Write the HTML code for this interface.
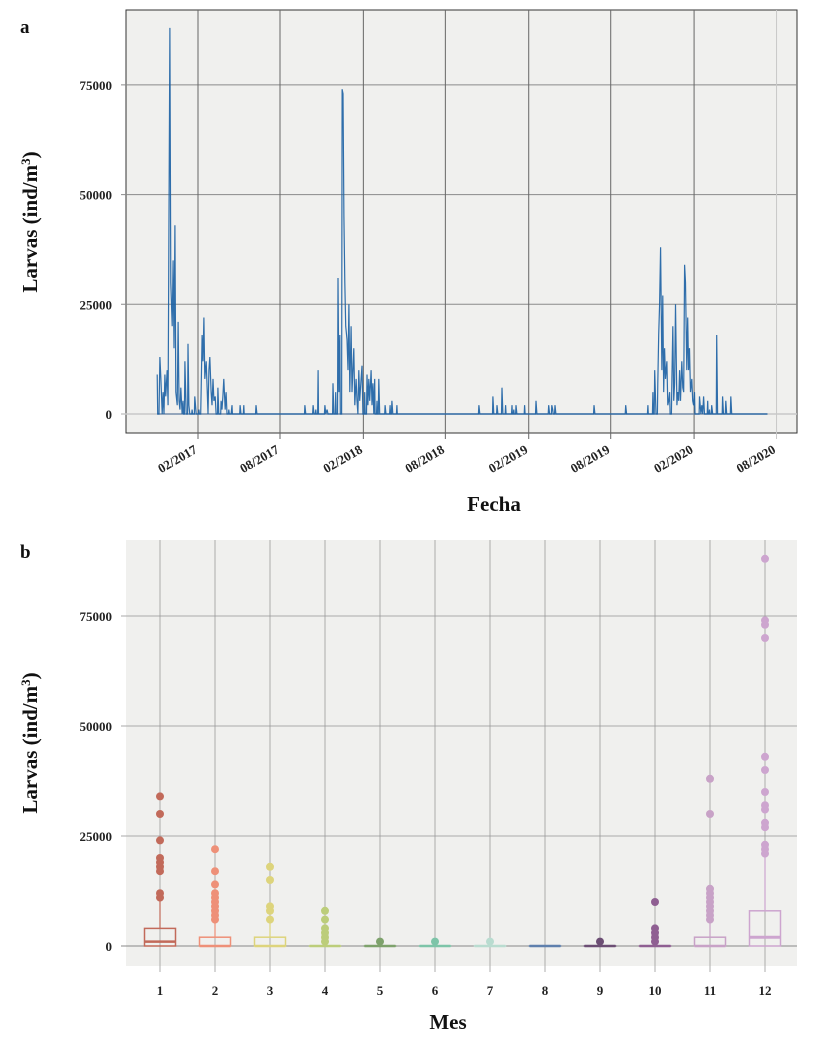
<!DOCTYPE html>
<html><head><meta charset="utf-8"><style>
body{margin:0;background:#fff;width:820px;height:1038px;overflow:hidden}
svg{display:block;font-family:"Liberation Serif",serif}
</style></head><body>
<svg id="fig" width="820" height="1038" xmlns="http://www.w3.org/2000/svg">
<text x="20" y="33" font-size="19" font-weight="bold" fill="#111">a</text>
<text x="20" y="558" font-size="19" font-weight="bold" fill="#111">b</text>
<g id="topChart"></g>
<g id="botChart"></g>
</svg>
<script>
// ---- Panel a data: days since 2017-02-01, larvae values ----
const tsDays = [-90,-86,-84,-82,-79,-77,-75,-73,-71,-68,-66,-64,-62,-60,-57,-55,-53,-51,-49,-46,-44,-42,-40,-38,-35,-33,-29,-26,-22,-20,-18,-13,-7,-4,2,7,9,11,13,15,18,20,22,24,26,29,31,33,35,38,40,44,46,51,53,55,57,60,62,64,68,73,75,79,93,95,101,106,128,130,
236,238,243,254,256,260,265,269,280,282,285,287,298,300,304,309,311,313,318,320,322,324,326,329,331,333,335,338,340,342,344,346,349,351,353,355,357,360,362,364,368,373,375,377,379,382,384,386,388,390,395,399,401,413,415,424,428,430,439,446,
620,622,651,653,660,662,671,673,679,684,693,697,702,704,721,726,746,748,774,776,781,783,788,790,874,876,944,946,
993,997,1004,1008,1010,1015,1017,1019,1021,1024,1026,1028,1030,1032,1035,1037,1039,1041,1046,1048,1050,1052,1054,1057,1059,1061,1063,1065,1068,1070,1072,1074,1076,1079,1081,1083,1085,1087,1090,1092,1094,1096,1101,1107,1110,1112,1114,1116,1118,1125,1129,1134,1136,1145,1147,1158,1160,1165,1167,1176,1178,1257];
const tsValues = [9000,0,13000,8000,0,5000,0,9000,4000,10000,2000,45000,88000,30000,20000,35000,15000,43000,5000,2000,21000,3000,1000,6000,0,3000,12000,0,16000,2000,0,1000,4000,0,1000,6000,18000,12000,22000,8000,12000,6000,0,10000,13000,5000,2000,8000,3000,4000,0,6000,0,3000,1000,4000,8000,1000,5000,0,1000,0,2000,0,2000,0,2000,0,2000,0,
2000,0,0,2000,0,1000,10000,0,2000,0,1000,0,7000,0,5000,31000,5000,18000,74000,73000,45000,30000,20000,17000,10000,25000,5000,20000,5000,10000,15000,2000,8000,3000,0,10000,3000,8000,11000,0,5000,9000,2000,8000,3000,10000,2000,7000,0,8000,3000,8000,0,2000,0,2000,3000,0,2000,0,
2000,0,4000,0,2000,0,6000,0,2000,0,2000,1000,2000,0,2000,0,3000,0,2000,0,2000,1000,2000,0,2000,0,2000,0,
2000,0,5000,10000,3000,7000,18000,25000,38000,10000,27000,5000,15000,8000,12000,2000,3000,5000,8000,20000,3000,7000,25000,2000,5000,3000,10000,3000,12000,6000,5000,34000,30000,10000,22000,10000,15000,5000,8000,3000,2000,5000,0,4000,0,2000,0,4000,0,3000,1000,2000,0,18000,0,4000,0,3000,0,4000,0,0];
const tsTickLabels = ["02/2017","08/2017","02/2018","08/2018","02/2019","08/2019","02/2020","08/2020"];
const tsTickDays = [0,181,365,546,730,911,1095,1277];
const yTicks = [0,25000,50000,75000];

// ---- Panel b data ----
const months = ["1","2","3","4","5","6","7","8","9","10","11","12"];
const boxQ1 = [0,0,0,0,0,0,0,0,0,0,0,0];
const boxMed = [1000,0,0,0,0,0,0,0,0,0,0,2000];
const boxQ3 = [4000,2000,2000,0,0,0,0,0,0,0,2000,8000];
const boxWhisker = [11000,6000,6000,0,0,0,0,0,0,0,6000,21000];
const outliers = [
 [34000,30000,24000,20000,19000,18000,17000,12000,11000],
 [22000,17000,14000,12000,11000,10000,9000,8000,7000,6000],
 [18000,15000,9000,8000,6000],
 [8000,6000,4000,3000,2000,1000],
 [1000],[1000],[1000],[],[1000],
 [10000,4000,3000,2000,1000],
 [38000,30000,13000,12000,11000,10000,9000,8000,7000,6000],
 [88000,74000,73000,70000,43000,40000,35000,32000,31000,28000,27000,23000,22000,21000]];
const monthColors = ["#c26a5a","#ee9078","#ddd47c","#bccd7a","#7ea26c","#7dc4a8","#b9dcd0","#5f80ad","#6c4e74","#8f5f92","#c8a2c7","#cda5cf"];

const NS="http://www.w3.org/2000/svg";
function mk(parent,tag,attrs){const e=document.createElementNS(NS,tag);for(const k in attrs)e.setAttribute(k,attrs[k]);parent.appendChild(e);return e;}

// ---------- Panel a ----------
(function(){
 const g=document.getElementById('topChart');
 const L=126,R=797,T=10,B=433;
 const xs=d=>198+d*(82/181);
 const ys=v=>414-v*(109.7/25000);
 const bg=mk(g,'rect',{x:L,y:T,width:R-L,height:B-T,fill:'#f0f0ee',stroke:'#333','stroke-width':1});
 
 
 yTicks.forEach(v=>{
  const l=mk(g,'line',{x1:L-5,x2:R,y1:ys(v),y2:ys(v),stroke:v===0?'#c8c8c8':'#8a8a8a','stroke-width':v===0?1.5:1});
  
  
  const t=mk(g,'text',{x:112,y:ys(v)+5,'text-anchor':'end','font-size':13,'font-weight':'bold',fill:'#222'});
  t.textContent=v;
  
  
 });
 tsTickDays.forEach((d,i)=>{
  const x=xs(d);
  const l=mk(g,'line',{x1:x,x2:x,y1:T,y2:B+6,stroke:i===7?'#c8c8c8':'#666','stroke-width':1});
  
  
  const t=mk(g,'text',{x:x,y:452,'text-anchor':'end','font-size':13,'font-weight':'bold',fill:'#222',transform:`rotate(-30 ${x} 452)`});
  t.textContent=tsTickLabels[i];
  
  
 });
 // baseline
 const bl=mk(g,'line',{x1:xs(tsDays[0]),x2:xs(tsDays[tsDays.length-1]),y1:ys(0),y2:ys(0),stroke:'#6a86a8','stroke-width':1.2});
 
 
 let d='';
 tsDays.forEach((day,i)=>{
  if(i>0 && day-tsDays[i-1]>3){
   d+='L'+xs(tsDays[i-1]+1).toFixed(1)+','+ys(0).toFixed(1);
   d+='L'+xs(day-1).toFixed(1)+','+ys(0).toFixed(1);
  }
  d+=(i?'L':'M')+xs(day).toFixed(1)+','+ys(tsValues[i]).toFixed(1);
 });
 const p=mk(g,'path',{d:d,fill:'none',stroke:'#1a5fa3','stroke-width':1.2,'stroke-opacity':0.9,'stroke-linejoin':'miter'});
 
 
 const xt=mk(g,'text',{x:494,y:511,'text-anchor':'middle','font-size':21,'font-weight':'bold',fill:'#111'});
 xt.textContent='Fecha';
 
 
 const yt=mk(g,'text',{x:0,y:0,'text-anchor':'middle','font-size':21,'font-weight':'bold',fill:'#111',transform:'translate(37 222) rotate(-90)'});
 yt.innerHTML='Larvas (ind/m<tspan baseline-shift="super" font-size="13">3</tspan>)';
 
 
})();

// ---------- Panel b ----------
(function(){
 const g=document.getElementById('botChart');
 const L=126,R=797,T=540,B=966;
 const xs=i=>160+i*55;
 const ys=v=>946-v*(110/25000);
 const bg=mk(g,'rect',{x:L,y:T,width:R-L,height:B-T,fill:'#f0f0ee'});
 
 
 yTicks.forEach(v=>{
  const l=mk(g,'line',{x1:L-5,x2:R,y1:ys(v),y2:ys(v),stroke:v===0?'#888':'#aaa','stroke-width':0.9});
  
  
  const t=mk(g,'text',{x:112,y:ys(v)+5,'text-anchor':'end','font-size':13,'font-weight':'bold',fill:'#222'});
  t.textContent=v;
  
  
 });
 months.forEach((m,i)=>{
  const x=xs(i);
  const l=mk(g,'line',{x1:x,x2:x,y1:T,y2:B+6,stroke:'#9a9a9a','stroke-width':0.8});
  
  
  const t=mk(g,'text',{x:x,y:995,'text-anchor':'middle','font-size':13,'font-weight':'bold',fill:'#222'});
  t.textContent=m;
  
  
  const c=monthColors[i];
  const bx=mk(g,'g',{});
  
  
  mk(bx,'line',{x1:x,x2:x,y1:ys(boxQ3[i]),y2:ys(boxWhisker[i]),stroke:c,'stroke-width':1.2});
  const h=Math.max(ys(boxQ1[i])-ys(boxQ3[i]),0.01);
  mk(bx,'rect',{x:x-15.5,y:ys(boxQ3[i]),width:31,height:h,fill:'none',stroke:c,'stroke-width':1.5});
  mk(bx,'line',{x1:x-15.5,x2:x+15.5,y1:ys(boxMed[i]),y2:ys(boxMed[i]),stroke:c,'stroke-width':i===11?3:2.5});
  outliers[i].forEach(v=>{
   const o=mk(bx,'circle',{cx:x,cy:ys(v),r:4,fill:c});
   
   
  });
 });
 const xt=mk(g,'text',{x:448,y:1029,'text-anchor':'middle','font-size':21,'font-weight':'bold',fill:'#111'});
 xt.textContent='Mes';
 
 
 const yt=mk(g,'text',{x:0,y:0,'text-anchor':'middle','font-size':21,'font-weight':'bold',fill:'#111',transform:'translate(37 743) rotate(-90)'});
 yt.innerHTML='Larvas (ind/m<tspan baseline-shift="super" font-size="13">3</tspan>)';
 
 
})();
</script>
</body></html>
